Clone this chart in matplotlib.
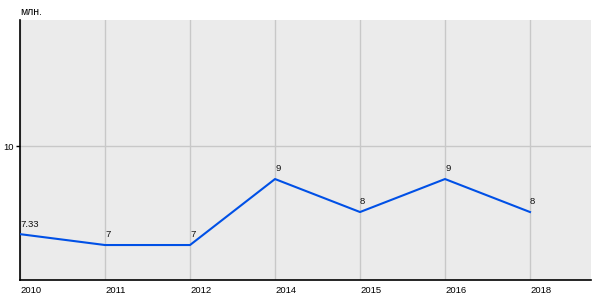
import matplotlib
matplotlib.use('Agg')
import matplotlib.pyplot as plt

# data
years = ['2010', '2011', '2012', '2014', '2015', '2016', '2018']
values = [7.33, 7, 7, 9, 8, 9, 8]
labels = ['7.33', '7', '7', '9', '8', '9', '8']

plt.rcParams['font.family'] = ['Liberation Sans', 'DejaVu Sans']

fig = plt.figure(figsize=(6, 3), dpi=100)
ax = fig.add_axes([20/600, 20/300, 571/600, 260/300])
ax.set_facecolor('#EBEBEB')

x = list(range(len(years)))
ax.plot(x, values, color='#0050E6', linewidth=1.5, zorder=3)
for xi, v, lab in zip(x, values, labels):
    ax.annotate(lab, (xi, v), xytext=(0, 4), textcoords='offset points',
                ha='left', va='bottom', fontsize=6.8, color='#111111')

ax.set_xlim(0, 571/85)
ax.set_ylim(5.94, 13.82)
ax.set_xticks(x)
ax.set_xticklabels(years, ha='left', fontsize=6.8)
ax.set_yticks([10])
ax.set_yticklabels(['10'], fontsize=6.8)
ax.tick_params(axis='x', length=0, pad=4)
ax.tick_params(axis='y', length=3, width=1, pad=1.5)
ax.grid(True, color='#C8C8C8', linewidth=1)
ax.set_axisbelow(True)
for s in ['top', 'right']:
    ax.spines[s].set_visible(False)
for s in ['left', 'bottom']:
    ax.spines[s].set_color('black')
    ax.spines[s].set_linewidth(1.2)

fig.text(20/600, 1 - 12/300, 'млн.', fontsize=7.5, va='center', ha='left')

fig.savefig('out.png', dpi=100)
